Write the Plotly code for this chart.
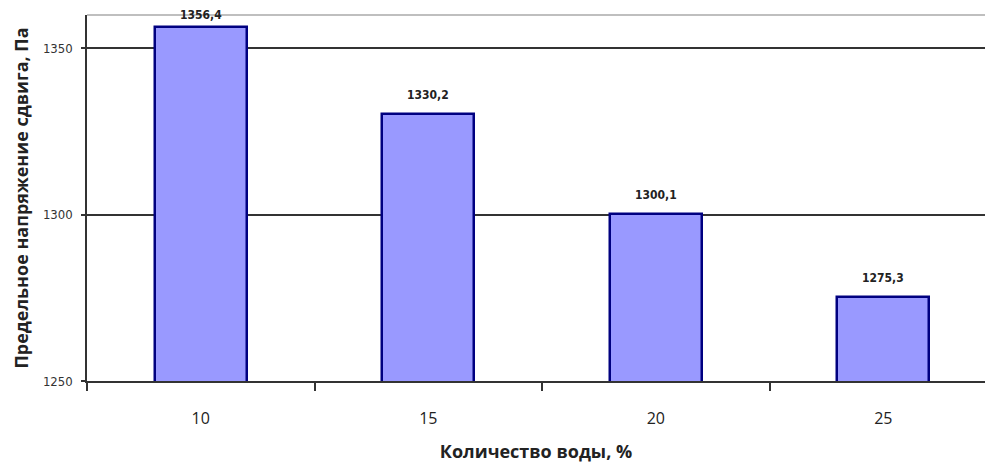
import plotly.graph_objects as go

# Water content categories and measured yield shear stress
water_pct = ["10", "15", "20", "25"]
shear_stress = [1356.4, 1330.2, 1300.1, 1275.3]
y_ticks = [1250, 1300, 1350]

positions = list(range(len(water_pct)))
labels = [f"{v:.1f}".replace(".", ",") for v in shear_stress]

fig = go.Figure()
fig.add_trace(go.Bar(
    x=positions,
    y=shear_stress,
    width=0.405,
    marker=dict(color="#9999FF", line=dict(color="#000080", width=2.5)),
    cliponaxis=False,
    hoverinfo="x+y",
))

# Value labels above each bar (the tallest one sits tight under the top edge)
shifts = [3, 10, 10, 10]
for px, v, txt, s in zip(positions, shear_stress, labels, shifts):
    fig.add_annotation(
        x=px, y=v, text=f"<b>{txt}</b>", showarrow=False, yanchor="bottom", yshift=s,
        font=dict(family="DejaVu Sans Condensed", size=12, color="#222222"),
    )

# Light border along the top of the plot area
fig.add_shape(type="line", xref="paper", yref="paper", x0=0, x1=1, y0=1, y1=1,
              line=dict(color="#AAAAAA", width=1.5), layer="below")

fig.update_layout(
    width=985, height=464,
    margin=dict(l=87, r=0, t=15, b=83),
    paper_bgcolor="white", plot_bgcolor="white",
    showlegend=False,
    bargap=0,
    xaxis=dict(
        range=[-0.5, 3.447],
        tickvals=positions, ticktext=water_pct,
        ticks="", showgrid=False, zeroline=False,
        showline=True, linecolor="#333333", linewidth=1.5,
        ticklabelstandoff=22,
        tickfont=dict(family="Open Sans", size=16, color="#222222"),
        minor=dict(tickvals=[-0.5, 0.5, 1.5, 2.5], ticks="outside", ticklen=8,
                   tickcolor="#333333", tickwidth=1.5, showgrid=False),
        title=dict(text="<b>Количество воды, %</b>", standoff=17,
                   font=dict(family="Open Sans", size=18, color="#222222")),
    ),
    yaxis=dict(
        range=[1250, 1360],
        tickvals=y_ticks,
        ticks="outside", ticklen=4, tickcolor="#333333", tickwidth=1.5,
        showgrid=True, gridcolor="#333333", gridwidth=1.5,
        zeroline=False, showline=True, linecolor="#333333", linewidth=1.5,
        ticklabelstandoff=6,
        tickfont=dict(family="DejaVu Sans Condensed", size=13, color="#333333"),
        title=dict(text="<b>Предельное напряжение сдвига, Па</b>", standoff=10,
                   font=dict(family="Open Sans", size=18, color="#222222")),
    ),
)

fig.write_html("out.html")
